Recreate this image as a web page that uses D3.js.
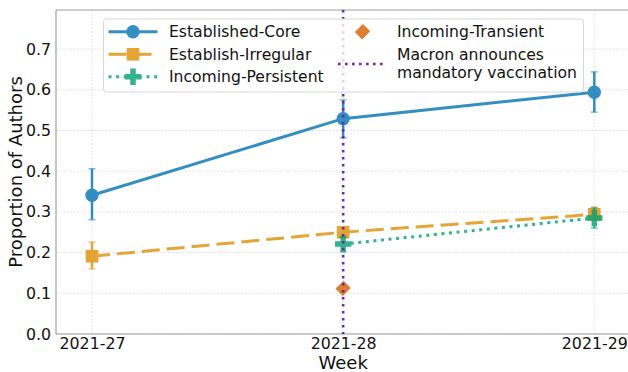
<!DOCTYPE html>
<html>
<head>
<meta charset="utf-8">
<script src="https://cdn.jsdelivr.net/npm/d3@7"></script>
<style>
  html, body { margin: 0; padding: 0; background: #fff; }
  svg { display: block; font-family: "DejaVu Sans", sans-serif; }
</style>
</head>
<body>
<svg id="chart" width="628" height="372"></svg>
<script>
// Weeks on the x axis
const weeks = ["2021-27", "2021-28", "2021-29"];
const yTicks = [0.0, 0.1, 0.2, 0.3, 0.4, 0.5, 0.6, 0.7];

// Proportion of authors per group, with lower / upper error bounds
const coreWeeks = ["2021-27", "2021-28", "2021-29"];
const coreValues = [0.341, 0.529, 0.594];
const coreLow = [0.281, 0.482, 0.545];
const coreHigh = [0.406, 0.575, 0.644];

const irregularWeeks = ["2021-27", "2021-28", "2021-29"];
const irregularValues = [0.191, 0.250, 0.294];
const irregularLow = [0.160, 0.240, 0.280];
const irregularHigh = [0.226, 0.262, 0.312];

const persistentWeeks = ["2021-28", "2021-29"];
const persistentValues = [0.221, 0.285];
const persistentLow = [0.202, 0.260];
const persistentHigh = [0.238, 0.310];

const transientWeeks = ["2021-28"];
const transientValues = [0.112];
const transientLow = [0.108];
const transientHigh = [0.116];

const eventWeek = "2021-28";

const svg = d3.select("#chart");
const plotLeft = 56, plotRight = 630, plotTop = 10, plotBottom = 334;

const x = d3.scalePoint().domain(weeks).range([92, 594.3]);
const y = d3.scaleLinear().domain([0, 0.796]).range([plotBottom, plotTop]);

const grid = svg.append("g");
grid.selectAll("line.h").data(yTicks).join("line")
  .attr("x1", plotLeft).attr("x2", plotRight)
  .attr("y1", d => y(d)).attr("y2", d => y(d))
  .attr("stroke", "#dcdcdc").attr("stroke-width", 0.8)
  .attr("stroke-dasharray", "2,1.5");
grid.selectAll("line.v").data(weeks).join("line")
  .attr("x1", d => x(d)).attr("x2", d => x(d))
  .attr("y1", plotTop).attr("y2", plotBottom)
  .attr("stroke", "#dcdcdc").attr("stroke-width", 0.8)
  .attr("stroke-dasharray", "2,1.5");

// Axes (ticks hidden, labels only)
const yAxis = svg.append("g").attr("transform", `translate(${plotLeft},0)`)
  .call(d3.axisLeft(y).tickValues(yTicks).tickFormat(d3.format(".1f")).tickSize(0).tickPadding(5));
const xAxis = svg.append("g").attr("transform", `translate(0,${plotBottom})`)
  .call(d3.axisBottom(x).tickSize(0).tickPadding(4));
[yAxis, xAxis].forEach(a => {
  a.select(".domain").remove();
  a.selectAll("text").attr("font-size", 15.8).attr("fill", "#111")
    .attr("font-family", "DejaVu Sans, sans-serif");
});

// Spines
svg.append("line").attr("x1", plotLeft).attr("x2", plotLeft).attr("y1", plotTop).attr("y2", plotBottom)
  .attr("stroke", "#a0a0a0").attr("stroke-width", 1.2);
svg.append("line").attr("x1", plotLeft).attr("x2", plotRight).attr("y1", plotBottom).attr("y2", plotBottom)
  .attr("stroke", "#a0a0a0").attr("stroke-width", 1.2);
svg.append("line").attr("x1", plotLeft).attr("x2", plotRight).attr("y1", plotTop).attr("y2", plotTop)
  .attr("stroke", "#a0a0a0").attr("stroke-width", 1.2);

// Axis titles
svg.append("text").attr("x", x("2021-28")).attr("y", 369)
  .attr("text-anchor", "middle").attr("font-size", 18).attr("fill", "#111").text("Week");
svg.append("text").attr("transform", `translate(22,${(plotTop + plotBottom) / 2}) rotate(-90)`)
  .attr("text-anchor", "middle").attr("font-size", 18).attr("fill", "#111").text("Proportion of Authors");

const plot = svg.append("g");

function symbolPath(kind, size) {
  const types = { circle: d3.symbolCircle, square: d3.symbolSquare, plus: d3.symbolCross, diamond: d3.symbolSquare };
  return d3.symbol().type(types[kind]).size(size)();
}
// diamonds are squares turned by 45 degrees, slightly taller than wide
function symbolTransform(kind) {
  return kind === "diamond" ? " rotate(45) scale(0.95,1.05)" : "";
}

function drawSeries(cfg) {
  const pts = cfg.weeks.map((w, i) => ({ w, v: cfg.values[i], lo: cfg.low[i], hi: cfg.high[i] }));
  const g = plot.append("g").attr("opacity", 0.8);
  if (pts.length > 1) {
    g.append("path")
      .attr("d", d3.line().x(d => x(d.w)).y(d => y(d.v))(pts))
      .attr("fill", "none").attr("stroke", cfg.color).attr("stroke-width", 3)
      .attr("stroke-dasharray", cfg.dash || null);
  }
  // error bars
  g.selectAll("line.err").data(pts).join("line")
    .attr("x1", d => x(d.w)).attr("x2", d => x(d.w))
    .attr("y1", d => y(d.lo)).attr("y2", d => y(d.hi))
    .attr("stroke", cfg.color).attr("stroke-width", 2.5);
  ["lo", "hi"].forEach(k => {
    g.selectAll("line.cap" + k).data(pts).join("line")
      .attr("x1", d => x(d.w) - 3.5).attr("x2", d => x(d.w) + 3.5)
      .attr("y1", d => y(d[k])).attr("y2", d => y(d[k]))
      .attr("stroke", cfg.color).attr("stroke-width", 1.5).attr("opacity", 0.6);
  });
  g.selectAll("path.m").data(pts).join("path")
    .attr("transform", d => `translate(${x(d.w)},${y(d.v)})` + symbolTransform(cfg.marker))
    .attr("d", symbolPath(cfg.marker, cfg.size))
    .attr("fill", cfg.color);
}

const blue = "#0173b2", orange = "#de8f05", green = "#029e73", red = "#d55e00", purple = "#6a2aa3";

drawSeries({ weeks: coreWeeks, values: coreValues, low: coreLow, high: coreHigh, color: blue, marker: "circle", size: 140 });
drawSeries({ weeks: irregularWeeks, values: irregularValues, low: irregularLow, high: irregularHigh, color: orange, marker: "square", size: 160, dash: "18,7" });
drawSeries({ weeks: persistentWeeks, values: persistentValues, low: persistentLow, high: persistentHigh, color: green, marker: "plus", size: 150, dash: "3,4.6" });
drawSeries({ weeks: transientWeeks, values: transientValues, low: transientLow, high: transientHigh, color: red, marker: "diamond", size: 118 });

// Event marker
plot.append("line")
  .attr("x1", x(eventWeek)).attr("x2", x(eventWeek))
  .attr("y1", plotTop).attr("y2", plotBottom)
  .attr("stroke", purple).attr("stroke-width", 2.6).attr("stroke-dasharray", "2.6,4.4");

// Legend
const lg = svg.append("g");
lg.append("rect").attr("x", 103.5).attr("y", 19).attr("width", 480).attr("height", 73)
  .attr("rx", 3).attr("fill", "#fff").attr("fill-opacity", 0.8)
  .attr("stroke", "#d8d8d8").attr("stroke-width", 1);

const legendItems = [
  { label: ["Established-Core"], color: blue, marker: "circle", size: 140, dash: null, col: 0, yy: 31.7 },
  { label: ["Establish-Irregular"], color: orange, marker: "square", size: 160, dash: "18,7", col: 0, yy: 54.3 },
  { label: ["Incoming-Persistent"], color: green, marker: "plus", size: 150, dash: "3,4.6", col: 0, yy: 76.7 },
  { label: ["Incoming-Transient"], color: red, marker: "diamond", size: 118, dash: null, col: 1, yy: 31.7, noLine: true },
  { label: ["Macron announces", "mandatory vaccination"], color: purple, marker: null, col: 1, yy: 64, vline: true }
];
legendItems.forEach(it => {
  const hx = it.col === 0 ? 108.5 : 338;
  const tx = it.col === 0 ? 169 : 397;
  const g = lg.append("g");
  if (it.vline) {
    g.append("line").attr("x1", hx).attr("x2", hx + 47).attr("y1", it.yy).attr("y2", it.yy)
      .attr("stroke", it.color).attr("stroke-width", 2.6).attr("stroke-dasharray", "2.6,4.4");
  } else {
    const gg = g.append("g").attr("opacity", 0.8);
    if (!it.noLine) {
      gg.append("line").attr("x1", hx).attr("x2", hx + 49).attr("y1", it.yy).attr("y2", it.yy)
        .attr("stroke", it.color).attr("stroke-width", 3).attr("stroke-dasharray", it.dash);
    }
    gg.append("path").attr("transform", `translate(${hx + 24.5},${it.yy})` + symbolTransform(it.marker))
      .attr("d", symbolPath(it.marker, it.size)).attr("fill", it.color);
  }
  const t = g.append("text").attr("x", tx).attr("font-size", 15.6).attr("fill", "#111");
  if (it.label.length === 1) {
    t.attr("y", it.yy + 5.5).text(it.label[0]);
  } else {
    t.append("tspan").attr("x", tx).attr("y", 59.5).text(it.label[0]);
    t.append("tspan").attr("x", tx).attr("y", 78).text(it.label[1]);
  }
});
</script>
</body>
</html>
